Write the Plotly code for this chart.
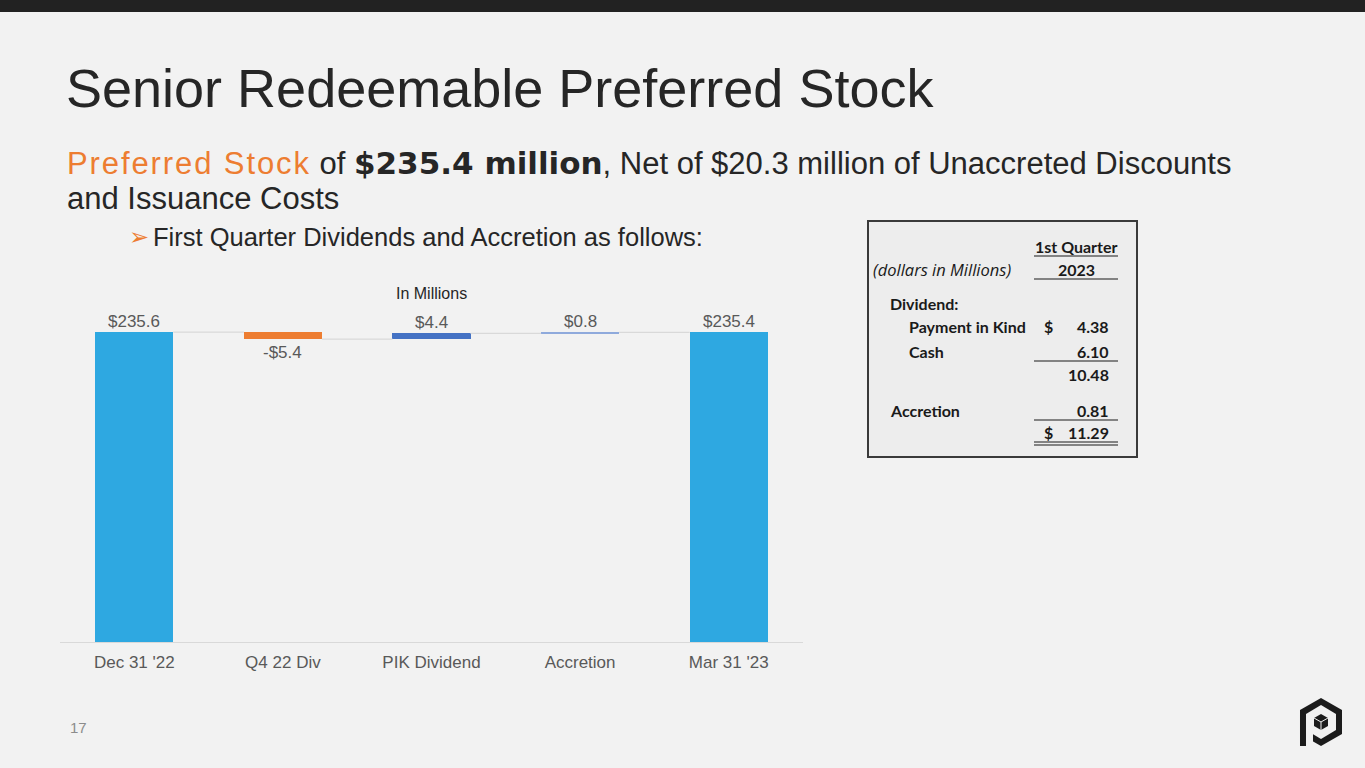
import plotly.graph_objects as go

W, H = 1365, 768

# chart data
categories = ["Dec 31 '22", "Q4 22 Div", "PIK Dividend", "Accretion", "Mar 31 '23"]
values = [235.6, -5.4, 4.4, 0.8, 235.4]
kinds = ["total", "relative", "relative", "relative", "total"]
value_labels = ["$235.6", "-$5.4", "$4.4", "$0.8", "$235.4"]
bar_colors = ["#2EA8E1", "#ED7D31", "#4472C4", "#8FAADC", "#2EA8E1"]

# side table data
table_rows = ["Dividend:", "Payment in Kind", "Cash", "", "Accretion", ""]
table_values = ["", "4.38", "6.10", "10.48", "0.81", "11.29"]
table_dollar = [False, True, False, False, False, True]

BG = "#F2F2F2"
DARK = "#262626"
GREY = "#595959"
ORANGE = "#ED7D31"


def px(x):
    return x / W


def py(y):
    return 1 - y / H


def path(points, close=True):
    s = "M " + " L ".join(f"{px(x):.5f},{py(y):.5f}" for x, y in points)
    return s + " Z" if close else s


def note(x, y, text, font, xanchor="center"):
    # text placed in page pixels, centred vertically on y
    return dict(x=px(x), y=py(y), xref="paper", yref="paper", text=text,
                xanchor=xanchor, yanchor="middle", showarrow=False, font=font)


# waterfall bases built from the running total
bases, heights, ends = [], [], []
running = 0
for v, k in zip(values, kinds):
    if k == "total":
        bases.append(0)
        running = v
    else:
        bases.append(running)
        running += v
    heights.append(v)
    ends.append(running)

xs = list(range(len(categories)))
bar_w = 0.525

fig = go.Figure()
fig.add_trace(go.Bar(
    x=xs, y=heights, base=bases, width=bar_w,
    marker=dict(color=bar_colors, line=dict(width=0)),
    hoverinfo="skip", showlegend=False,
))

# connector lines between bars
cx, cy = [], []
for i in range(len(xs) - 1):
    cx += [xs[i] + bar_w / 2, xs[i + 1] - bar_w / 2, None]
    cy += [ends[i], ends[i], None]
fig.add_trace(go.Scatter(
    x=cx, y=cy, mode="lines", line=dict(color="#D9D9D9", width=1.2),
    hoverinfo="skip", showlegend=False,
))

annotations = []
for i, (v, b, lab) in enumerate(zip(heights, bases, value_labels)):
    up = v >= 0
    annotations.append(dict(x=xs[i], y=b + v, text=lab, xref="x", yref="y",
                            xanchor="center", yanchor="bottom" if up else "top",
                            yshift=-1 if up else -2, showarrow=False,
                            font=dict(size=17, color=GREY)))

annotations.append(dict(x=2, y=py(293), xref="x", yref="paper", text="In Millions",
                        xanchor="center", yanchor="middle",
                        showarrow=False, font=dict(size=16, color=DARK)))

# page text
annotations += [
    note(64, 88, "Senior Redeemable Preferred Stock", dict(size=54, color=DARK), "left"),
    note(65, 163,
         (f"<span style='color:{ORANGE};letter-spacing:1.9px'>Preferred Stock</span> of "
          "<b><span style='font-family:DejaVu Sans'>$235.4 million</span></b>"
          ", Net of $20.3 million of Unaccreted Discounts"),
         dict(size=31, color=DARK), "left"),
    note(65, 199, "and Issuance Costs", dict(size=31, color=DARK), "left"),
    note(127, 237, "➢", dict(size=24, color=ORANGE, family="DejaVu Sans"), "left"),
    note(151, 237, "First Quarter Dividends and Accretion as follows:",
         dict(size=25.5, color=DARK), "left"),
    note(78, 727, "17", dict(size=15, color="#8C8C8C")),
]

# table text
tfont = dict(size=16, color="#1A1A1A", family="Lato")
annotations += [
    note(1076, 246, "<b>1st Quarter</b>", tfont),
    note(1076, 269, "<b>2023</b>", tfont),
    note(871, 269, "<i>(dollars in Millions)</i>",
         dict(size=16.5, color="#1A1A1A", family="Open Sans"), "left"),
]
row_y = [304, 326, 352, 374, 410, 432]
row_x = [888, 907, 907, 907, 888, 888]
for lab, val, dol, y, x in zip(table_rows, table_values, table_dollar, row_y, row_x):
    if lab:
        annotations.append(note(x, y, f"<b>{lab}</b>", tfont, "left"))
    if val:
        annotations.append(note(1111, y, f"<b>{val}</b>", tfont, "right"))
    if dol:
        annotations.append(note(1042, y, "<b>$</b>", tfont, "left"))

shapes = [
    # top dark band
    dict(type="rect", xref="paper", yref="paper", x0=0, x1=1, y0=py(12), y1=1,
         fillcolor="#222222", line=dict(width=0), layer="below"),
    # table box
    dict(type="rect", xref="paper", yref="paper", x0=px(868), x1=px(1137), y0=py(457), y1=py(221),
         fillcolor="#EDEDED", line=dict(color="#3A3A3A", width=2), layer="below"),
]
for y in [256, 279, 361, 420, 442, 445]:
    shapes.append(dict(type="line", xref="paper", yref="paper", x0=px(1034), x1=px(1118),
                       y0=py(y), y1=py(y), line=dict(color="#1A1A1A", width=1.2)))

# logo
logo_dark = "#1C1C1C"
shapes += [
    dict(type="path", xref="paper", yref="paper", fillcolor=logo_dark, line=dict(width=0),
         path=path([(1321, 698), (1342, 710), (1342, 734), (1321, 746), (1300, 734), (1300, 710)])),
    dict(type="path", xref="paper", yref="paper", fillcolor=BG, line=dict(width=0),
         path=path([(1321, 705), (1336, 714), (1336, 730), (1321, 739), (1306, 730), (1306, 714)])),
    dict(type="path", xref="paper", yref="paper", fillcolor=BG, line=dict(width=0),
         path=path([(1306, 728), (1313, 732), (1313, 747), (1306, 747)])),
    dict(type="path", xref="paper", yref="paper", fillcolor=logo_dark, line=dict(width=0),
         path=path([(1300, 712), (1306, 715), (1306, 746), (1300, 746)])),
    dict(type="path", xref="paper", yref="paper", fillcolor=logo_dark, line=dict(width=0),
         path=path([(1321, 714), (1328, 718), (1328, 726), (1321, 730), (1314, 726), (1314, 718)])),
    dict(type="path", xref="paper", yref="paper", fillcolor="rgba(0,0,0,0)",
         line=dict(color=BG, width=1),
         path=path([(1314, 718), (1321, 722), (1328, 718)], close=False)),
    dict(type="line", xref="paper", yref="paper", x0=px(1321), x1=px(1321), y0=py(722), y1=py(730),
         line=dict(color=BG, width=1)),
]

fig.update_layout(
    width=W, height=H,
    margin=dict(l=0, r=0, t=0, b=0),
    paper_bgcolor=BG, plot_bgcolor="rgba(0,0,0,0)",
    font=dict(family="Liberation Sans, Arial, sans-serif"),
    xaxis=dict(domain=[px(60), px(803)], range=[-0.5, 4.5],
               tickvals=xs, ticktext=categories, ticks="", ticklabelstandoff=4,
               tickfont=dict(size=17, color=GREY),
               showline=True, linecolor="#D9D9D9", linewidth=1.2,
               showgrid=False, zeroline=False, fixedrange=True),
    yaxis=dict(domain=[py(642), py(300)], range=[0, 260], visible=False,
               showgrid=False, zeroline=False, fixedrange=True),
    bargap=0,
    annotations=annotations,
    shapes=shapes,
)

fig.write_html("out.html", config={"displayModeBar": False},
               post_script="document.body.style.margin='0';")
